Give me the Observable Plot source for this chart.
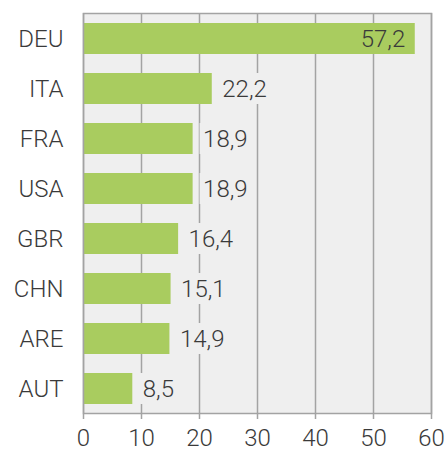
<!DOCTYPE html>
<html>
<head>
<meta charset="utf-8">
<script src="https://cdn.jsdelivr.net/npm/d3@7"></script>
<script src="https://cdn.jsdelivr.net/npm/@observablehq/plot@0.6"></script>
<style>
  html, body { margin: 0; padding: 0; background: #ffffff; }
  #chart svg { font-family: Roboto, "Noto Sans", sans-serif; font-weight: 300; }
</style>
</head>
<body>
<div id="chart"></div>
<script>
const countries = ["DEU", "ITA", "FRA", "USA", "GBR", "CHN", "ARE", "AUT"];
const values = [57.2, 22.2, 18.9, 18.9, 16.4, 15.1, 14.9, 8.5];
const xTicks = [0, 10, 20, 30, 40, 50, 60];

const data = countries.map((c, i) => ({country: c, value: values[i]}));
const fmt = v => v.toFixed(1).replace(".", ",");
const inside = d => d.value > 40;
const FS = 24;

const chart = Plot.plot({
  width: 447,
  height: 452,
  marginLeft: 83,
  marginRight: 16,
  marginTop: 13,
  marginBottom: 39,
  style: {fontSize: FS + "px", color: "#3a3a3a", background: "#ffffff"},
  x: {domain: [0, 60], ticks: xTicks, label: null},
  y: {domain: countries, label: null, paddingInner: 0.38, paddingOuter: 0.18},
  marks: [
    Plot.frame({fill: "#efefef"}),
    Plot.ruleX(xTicks, {stroke: "#a3a3a3", strokeWidth: 1.5}),
    Plot.barX(data.filter(d => !inside(d)), {
      x1: d => d.value + 1.2, x2: d => d.value + 10.2, y: "country", fill: "#efefef"
    }),
    Plot.barX(data, {x: "value", y: "country", fill: "#a9cc5f"}),
    Plot.frame({stroke: "#a3a3a3", strokeWidth: 1.5}),
    Plot.axisX({ticks: xTicks, tickSize: 6, tickPadding: 9, stroke: "#a3a3a3", strokeWidth: 1.5, fill: "#3a3a3a", label: null, fontSize: FS}),
    Plot.axisY({tickSize: 0, tickPadding: 20, fill: "#3a3a3a", label: null, fontSize: FS}),
    Plot.text(data.filter(inside), {
      x: "value", y: "country", text: d => fmt(d.value), textAnchor: "end", dx: -10,
      fill: "#3a3a3a", fontSize: FS
    }),
    Plot.text(data.filter(d => !inside(d)), {
      x: "value", y: "country", text: d => fmt(d.value), textAnchor: "start", dx: 10,
      fill: "#3a3a3a", fontSize: FS
    })
  ]
});
document.getElementById("chart").appendChild(chart);
</script>
</body>
</html>
